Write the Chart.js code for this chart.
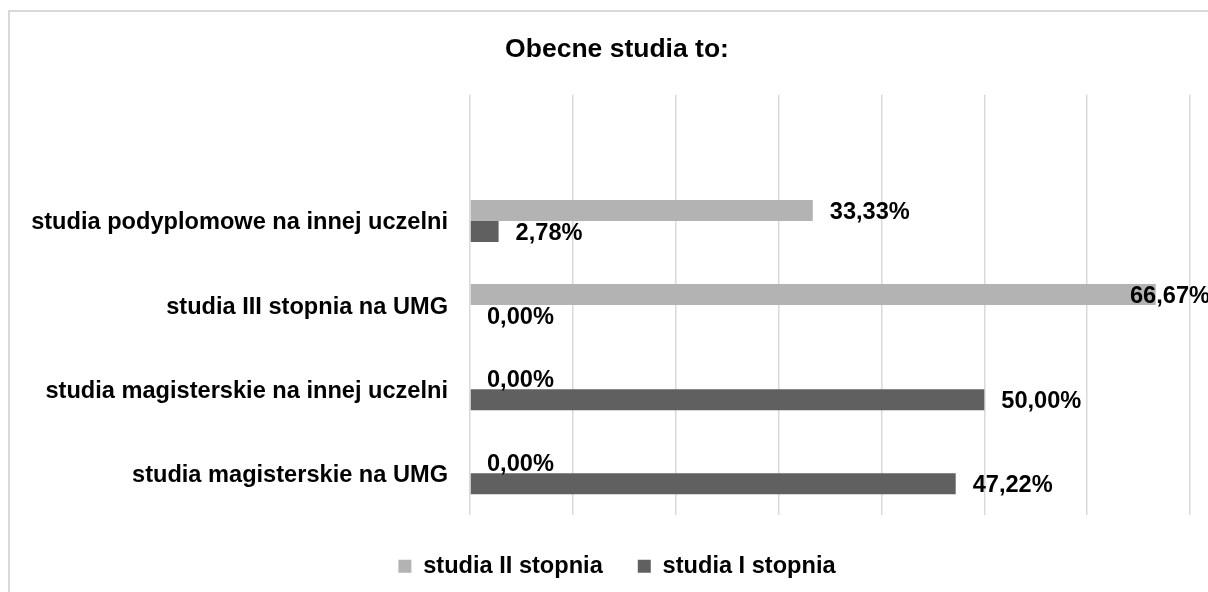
<!DOCTYPE html>
<html>
<head>
<meta charset="utf-8">
<script src="https://cdn.jsdelivr.net/npm/chart.js@4.4.1/dist/chart.umd.min.js"></script>
<style>
  body { margin: 0; background: #fff; }
  #wrap { position: relative; width: 1208px; height: 592px; overflow: hidden; }
  #frame { position: absolute; left: 8px; top: 10px; width: 1300px; height: 700px;
           border-left: 2px solid #d9d9d9; border-top: 2px solid #d9d9d9; pointer-events: none; }
</style>
</head>
<body>
<div id="wrap">
  <canvas id="chart" width="1208" height="592"></canvas>
  <div id="frame"></div>
</div>
<script>
var categories = ["", "studia podyplomowe na innej uczelni", "studia III stopnia na UMG", "studia magisterskie na innej uczelni", "studia magisterskie na UMG"];
var seriesNames = ["studia II stopnia", "studia I stopnia"];
var stopien2 = [null, 33.33, 66.67, 0, 0];
var stopien1 = [null, 2.78, 0, 50.00, 47.22];
var barColors = ["#b3b3b3", "#606060"];
var axisMax = 70;

var fontFamily = "'Liberation Sans', Arial, sans-serif";

// value labels drawn at the end of every bar, like in Excel
var valueLabels = {
    id: "valueLabels",
    afterDatasetsDraw: function (chart) {
        var ctx = chart.ctx;
        ctx.save();
        ctx.font = "bold 23.6px " + fontFamily;
        ctx.fillStyle = "#000";
        ctx.textAlign = "left";
        ctx.textBaseline = "middle";
        chart.data.datasets.forEach(function (ds, d) {
            var meta = chart.getDatasetMeta(d);
            meta.data.forEach(function (bar, i) {
                var v = ds.data[i];
                if (v === null) return;
                var txt = v.toFixed(2).replace(".", ",") + "%";
                var w = ctx.measureText(txt).width;
                var x = bar.x + 17;
                if (x + w > chart.width + 2) x = chart.width + 2 - w;
                ctx.fillText(txt, x, bar.y + 2);
            });
        });
        ctx.restore();
    }
};

new Chart("chart", {
    type: "bar",
    data: {
        labels: categories,
        datasets: [{
            label: seriesNames[0],
            data: stopien2,
            backgroundColor: barColors[0],
            categoryPercentage: 0.5,
            barPercentage: 1.0
        }, {
            label: seriesNames[1],
            data: stopien1,
            backgroundColor: barColors[1],
            categoryPercentage: 0.5,
            barPercentage: 1.0
        }]
    },
    options: {
        indexAxis: "y",
        responsive: false,
        animation: false,
        layout: { padding: { left: 26, right: 0, top: 0, bottom: 4 } },
        scales: {
            x: {
                min: 0,
                max: axisMax,
                ticks: { display: false, stepSize: 10 },
                grid: { color: "#d9d9d9", lineWidth: 1.5, drawTicks: false },
                border: { display: false },
                afterFit: function (scale) { scale.height = 4; }
            },
            y: {
                grid: { display: false, drawTicks: false },
                border: { display: false },
                ticks: {
                    color: "#000",
                    padding: 22,
                    labelOffset: 2,
                    font: { family: fontFamily, size: 23.6, weight: "bold" }
                },
                afterFit: function (scale) { scale.width = 444; }
            },
            yRight: {
                position: "right",
                grid: { display: false, drawTicks: false },
                border: { display: false },
                ticks: { display: false },
                afterFit: function (scale) { scale.width = 18; }
            }
        },
        plugins: {
            title: {
                display: true,
                text: "Obecne studia to:",
                color: "#000",
                font: { family: fontFamily, size: 26.5, weight: "bold" },
                padding: { top: 34, bottom: 29 }
            },
            legend: {
                position: "bottom",
                labels: {
                    color: "#000",
                    boxWidth: 13,
                    boxHeight: 13,
                    padding: 35,
                    font: { family: fontFamily, size: 23.6, weight: "bold" }
                }
            },
            tooltip: { enabled: false }
        }
    },
    plugins: [valueLabels]
});
</script>
</body>
</html>
